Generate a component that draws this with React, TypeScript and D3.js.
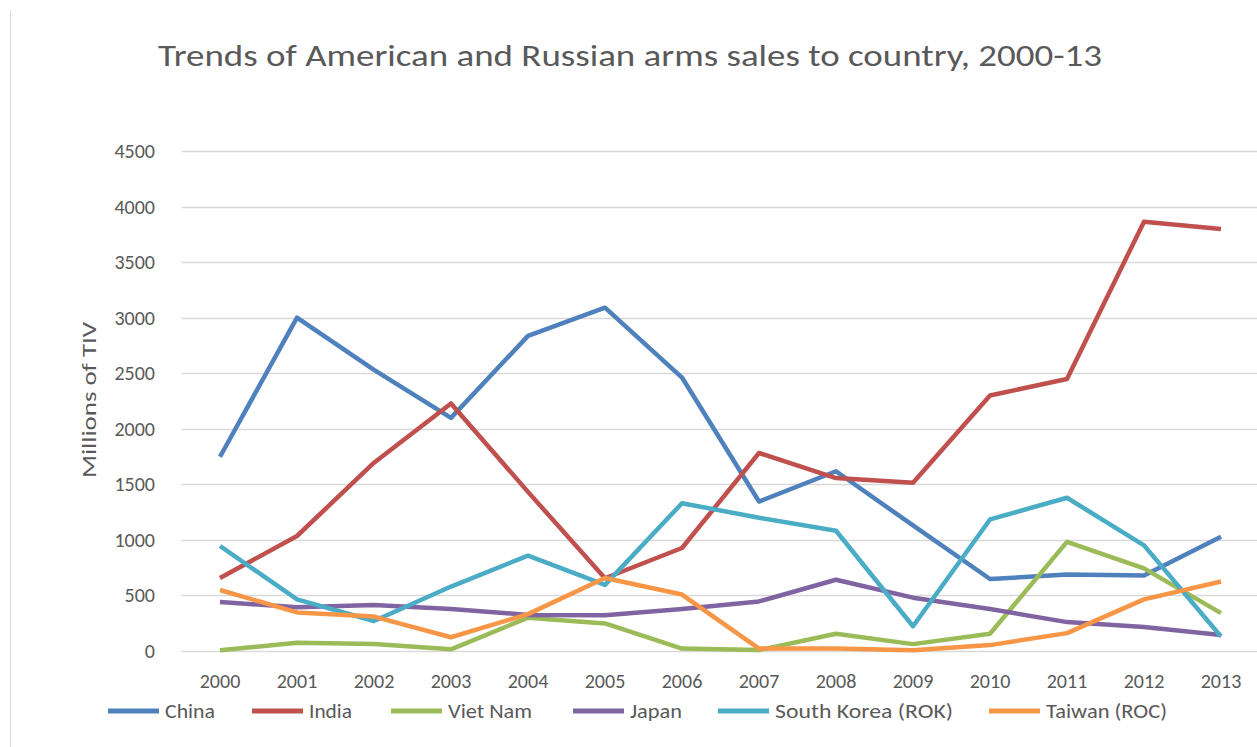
import React from "react";
import * as d3 from "d3";

const years = ["2000","2001","2002","2003","2004","2005","2006","2007","2008","2009","2010","2011","2012","2013"];
const china = [1748, 3000, 2530, 2098, 2836, 3090, 2461, 1345, 1618, 1130, 648, 688, 679, 1029];
const india = [657, 1035, 1695, 2228, 1432, 655, 927, 1782, 1556, 1515, 2300, 2448, 3864, 3799];
const vietNam = [6, 74, 62, 15, 300, 248, 22, 8, 155, 62, 155, 982, 744, 341];
const japan = [440, 394, 415, 378, 325, 322, 378, 446, 641, 480, 378, 260, 217, 143];
const southKorea = [945, 465, 270, 580, 858, 595, 1330, 1199, 1082, 223, 1184, 1379, 951, 130];
const taiwan = [549, 347, 310, 124, 332, 657, 508, 22, 22, 6, 53, 161, 465, 626];
const yTicks = [0, 500, 1000, 1500, 2000, 2500, 3000, 3500, 4000, 4500];

const seriesNames = ["China", "India", "Viet Nam", "Japan", "South Korea (ROK)", "Taiwan (ROC)"];
const seriesValues = [china, india, vietNam, japan, southKorea, taiwan];
const seriesColors = ["#4F81BD", "#C0504D", "#9BBB59", "#8064A2", "#4BACC6", "#F79646"];

const W = 1257, H = 747;
const FONT = "Carlito, 'Liberation Sans Narrow', 'Open Sans', sans-serif";

export default function App() {
  const x = d3.scaleBand<string>().domain(years).range([181.5, 1259.5]).padding(0);
  const y = d3.scaleLinear().domain([0, 4500]).range([651, 151]);
  const cx = (yr: string) => (x(yr) as number) + x.bandwidth() / 2;
  const line = d3.line<number>().x((_, i) => cx(years[i])).y((v) => y(v));
  const legendX = [108, 252, 391, 573, 718, 989];
  const legendW = [50, 43, 84, 52, 178, 121];
  return (
    <svg width={W} height={H} style={{ position: "absolute", left: 0, top: 0, background: "#fff" }} fontFamily={FONT}>
      <line x1={10.5} x2={10.5} y1={10} y2={H} stroke="#D9D9D9" strokeWidth={1} />
      <text x={630} y={66} textAnchor="middle" fontSize={31} fill="#595959" textLength={944} lengthAdjust="spacingAndGlyphs">
        Trends of American and Russian arms sales to country, 2000-13
      </text>
      {yTicks.map((t) => (
        <g key={t}>
          <line x1={181.5} x2={1257} y1={Math.round(y(t)) + 0.5} y2={Math.round(y(t)) + 0.5} stroke="#D9D9D9" strokeWidth={1.5} />
          <text x={155} y={y(t) + 7} textAnchor="end" fontSize={20} fill="#595959">{t}</text>
        </g>
      ))}
      <text transform="translate(96,400) rotate(-90)" textAnchor="middle" fontSize={21} fill="#595959" textLength={156} lengthAdjust="spacingAndGlyphs">
        Millions of TIV
      </text>
      {years.map((yr) => (
        <text key={yr} x={cx(yr)} y={688} textAnchor="middle" fontSize={20} fill="#595959">{yr}</text>
      ))}
      {seriesValues.map((vals, i) => (
        <path key={seriesNames[i]} d={line(vals) || ""} fill="none" stroke={seriesColors[i]} strokeWidth={4.5} strokeLinejoin="round" strokeLinecap="butt" />
      ))}
      {seriesNames.map((n, i) => (
        <g key={n}>
          <line x1={legendX[i]} x2={legendX[i] + 51} y1={711} y2={711} stroke={seriesColors[i]} strokeWidth={5} />
          <text x={legendX[i] + 57} y={718} fontSize={20} fill="#595959" textLength={legendW[i]} lengthAdjust="spacingAndGlyphs">{n}</text>
        </g>
      ))}
    </svg>
  );
}
